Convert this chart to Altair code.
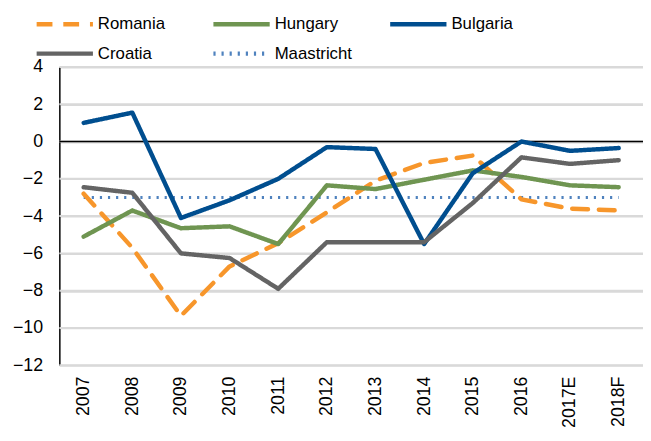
import altair as alt
import pandas as pd

years = ["2007", "2008", "2009", "2010", "2011", "2012", "2013", "2014", "2015", "2016", "2017E", "2018F"]
romania = [-2.8, -5.7, -9.35, -6.7, -5.45, -3.8, -2.1, -1.15, -0.75, -3.1, -3.6, -3.7]
hungary = [-5.1, -3.7, -4.65, -4.55, -5.5, -2.35, -2.55, -2.05, -1.55, -1.9, -2.35, -2.45]
bulgaria = [1.0, 1.55, -4.1, -3.15, -2.0, -0.3, -0.4, -5.5, -1.7, 0.0, -0.5, -0.35]
croatia = [-2.45, -2.75, -6.0, -6.25, -7.9, -5.4, -5.4, -5.4, -3.3, -0.85, -1.2, -1.0]
maastricht = [-3.0] * 12

series_names = ["Romania", "Hungary", "Bulgaria", "Croatia", "Maastricht"]
series_values = [romania, hungary, bulgaria, croatia, maastricht]
series_colors = ["#F7962B", "#6F9551", "#004E8F", "#646464", "#4F82BE"]
series_dash = [[16, 11], [1, 0], [1, 0], [1, 0], [2.2, 6]]
y_ticks = [-12, -10, -8, -6, -4, -2, 0, 2, 4]

rows = []
for name, vals in zip(series_names, series_values):
    for yr, v in zip(years, vals):
        rows.append({"Year": yr, "Value": v, "Series": name})
df = pd.DataFrame(rows)

FONT = "Liberation Sans"
y_scale = alt.Scale(domain=[-12, 4], nice=False, zero=False)
y_axis = alt.Axis(values=y_ticks, labelFontSize=18, labelFont=FONT,
                  labelColor="#000000", labelPadding=17, ticks=False,
                  labelOverlap=False,
                  domainColor="#000000", domainWidth=1.5,
                  grid=True, gridColor="#D9D9D9", gridWidth=2)

x_enc = alt.X("Year:N", sort=years, title=None,
              scale=alt.Scale(type="point", padding=0.5),
              axis=alt.Axis(labelAngle=-90, labelFontSize=18, labelFont=FONT, labelColor="#000000",
                            labelPadding=11, ticks=False, domain=False, grid=False))
y_enc = alt.Y("Value:Q", title=None, scale=y_scale, axis=y_axis)
color_enc = alt.Color("Series:N", sort=series_names,
                      scale=alt.Scale(domain=series_names, range=series_colors),
                      legend=alt.Legend(orient="none", legendX=-11, legendY=-60, columns=3,
                                        direction="horizontal", title=None,
                                        symbolType="M-2,0H2", symbolSize=812, symbolStrokeWidth=4.5,
                                        labelFontSize=17, labelFont=FONT, labelColor="#000000",
                                        labelOffset=17, columnPadding=29, rowPadding=4,
                                        padding=0, gridAlign="all"))
dash_enc = alt.StrokeDash("Series:N", sort=series_names,
                          scale=alt.Scale(domain=series_names, range=series_dash))

base = alt.Chart(df)

grid_df = pd.DataFrame({"gridval": y_ticks})
grid = alt.Chart(grid_df).mark_rule(stroke="#D9D9D9", strokeWidth=2).encode(
    y=alt.Y("gridval:Q", title=None, scale=y_scale, axis=y_axis))

zero_df = pd.DataFrame({"zeroval": [0]})
zero_line = alt.Chart(zero_df).mark_rule(stroke="#000000", strokeWidth=1.5).encode(
    y=alt.Y("zeroval:Q", title=None, scale=y_scale, axis=y_axis))

countries = base.transform_filter(alt.datum.Series != "Maastricht").mark_line(
    strokeCap="round", strokeJoin="round", strokeWidth=4.5).encode(
    x=x_enc, y=y_enc, color=color_enc, strokeDash=dash_enc)

maas = base.transform_filter(alt.datum.Series == "Maastricht").mark_line(
    strokeCap="butt", strokeWidth=3).encode(
    x=x_enc, y=y_enc, color=color_enc, strokeDash=dash_enc)

chart = alt.layer(grid, zero_line, maas, countries).resolve_scale(
    color="shared", strokeDash="shared").properties(
    width=591, height=302,
    autosize=alt.AutoSizeParams(type="none"),
    padding={"left": 52, "top": 57, "right": 0, "bottom": 72},
    background="#FFFFFF",
).configure_view(stroke=None)

chart.save("out.html", embed_options={"renderer": "svg", "actions": False})
